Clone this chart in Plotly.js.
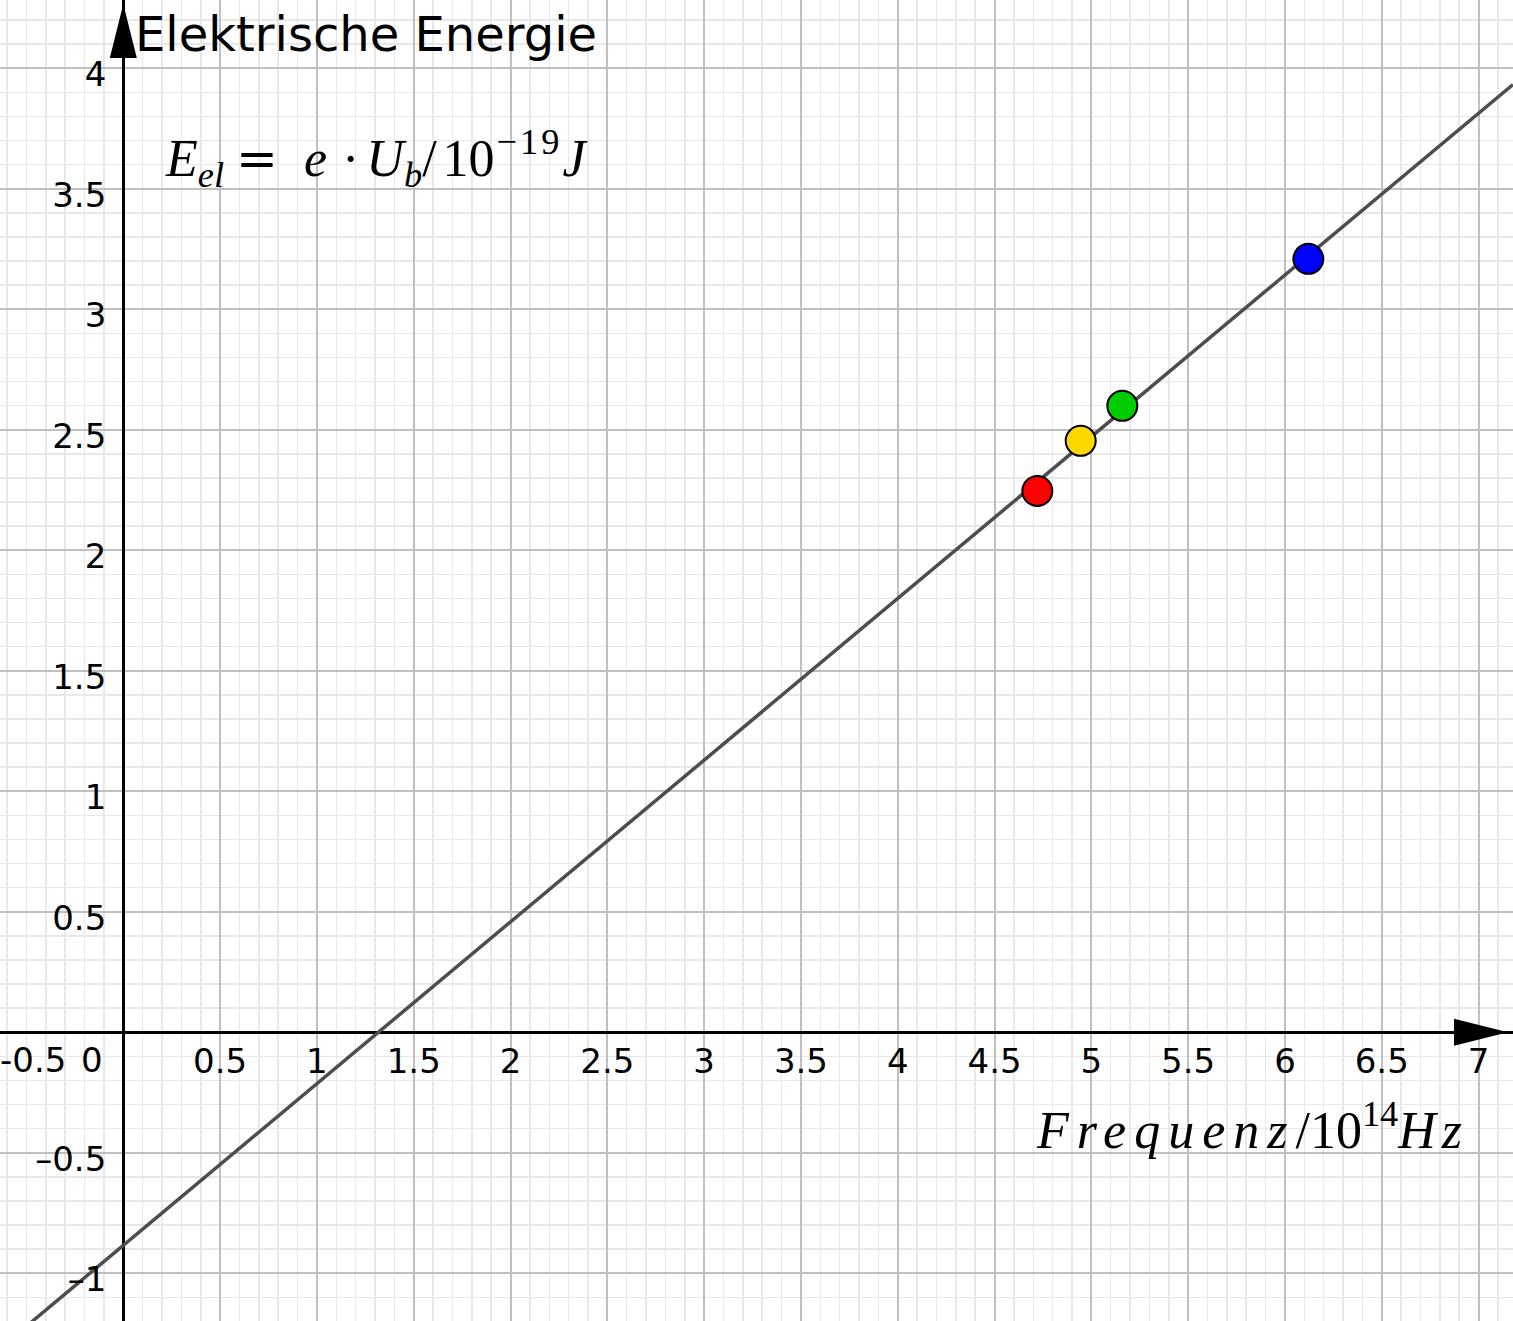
<!DOCTYPE html>
<html>
<head>
<meta charset="utf-8">
<script src="https://cdn.plot.ly/plotly-3.0.1.min.js"></script>
<style>html,body{margin:0;padding:0;background:#fff;}#chart{width:1513px;height:1321px;}</style>
</head>
<body>
<div id="chart"></div>
<script>
// Measured points (frequency / 10^14 Hz, energy / 10^-19 J)
const pointFreq = [4.721, 4.945, 5.160, 6.121];
const pointEnergy = [2.246, 2.454, 2.599, 3.209];
const pointColors = ['#ff0000', '#ffd700', '#00cc00', '#0000ff'];

// Fit line
const lineSlope = 0.671;
const lineIntercept = -0.884;

// Visible window
const xRange = [-0.637, 7.178];
const yRange = [-1.198, 4.283];

// Tick labels
const xTickVals = [0.5, 1, 1.5, 2, 2.5, 3, 3.5, 4, 4.5, 5, 5.5, 6, 6.5, 7];
const xTickText = ['0.5', '1', '1.5', '2', '2.5', '3', '3.5', '4', '4.5', '5', '5.5', '6', '6.5', '7'];
const xEdgeTickVal = -0.5;
const xEdgeTickText = '-0.5';
const yTickVals = [-1, -0.5, 0.5, 1, 1.5, 2, 2.5, 3, 3.5, 4];
const yTickText = ['–1', '–0.5', '0.5', '1', '1.5', '2', '2.5', '3', '3.5', '4'];
const originText = '0';

const titleText = 'Elektrische Energie';
const formulaText = '<i>E</i><sub><i>el</i></sub><span style="letter-spacing:-1px"> </span>' +
  '<span style="font-family:\'DejaVu Serif\';font-size:50px;letter-spacing:1px">=</span>' +
  '<span style="letter-spacing:12px"> </span><i>e</i><span style="letter-spacing:2px"> </span>·' +
  '<span style="letter-spacing:-6px"> </span><i>U</i><sub><i>b</i></sub>' +
  '<span style="letter-spacing:6px">/</span>1<span style="letter-spacing:2px">0</span>' +
  '<sup><span style="letter-spacing:3px">−19</span></sup><i>J</i>';
const xLabelText = '<i><span style="letter-spacing:8px">Frequenz</span></i>/10<sup>14</sup><i><span style="letter-spacing:6px">Hz</span></i>';

const lineTrace = {
  type: 'scatter', mode: 'lines',
  x: [xRange[0], xRange[1]],
  y: [lineIntercept + lineSlope * xRange[0], lineIntercept + lineSlope * xRange[1]],
  line: {color: '#4d4d4d', width: 3.5},
  hoverinfo: 'skip', showlegend: false
};
const pointTrace = {
  type: 'scatter', mode: 'markers',
  x: pointFreq, y: pointEnergy,
  marker: {size: 30, color: pointColors, line: {color: '#000', width: 2}},
  showlegend: false
};

const xPos = (0 - yRange[0]) / (yRange[1] - yRange[0]);
const yPos = (0 - xRange[0]) / (xRange[1] - xRange[0]);
const tickFont = {family: 'DejaVu Sans', size: 34, color: '#000'};

const layout = {
  width: 1513, height: 1321,
  margin: {l: 0, r: 0, t: 0, b: 0, pad: 0},
  paper_bgcolor: '#fff', plot_bgcolor: '#fff',
  showlegend: false,
  xaxis: {
    range: xRange, anchor: 'free', position: xPos,
    tickmode: 'array', tickvals: xTickVals, ticktext: xTickText,
    tickfont: tickFont, ticks: '', ticklabelstandoff: 6,
    showgrid: true, gridcolor: '#c0c0c0', gridwidth: 2,
    minor: {tickmode: 'linear', tick0: 0, dtick: 0.1, showgrid: true, gridcolor: '#e8e8e8', gridwidth: 1.5},
    zeroline: true, zerolinecolor: '#000', zerolinewidth: 3,
    showline: false, automargin: false, fixedrange: true
  },
  yaxis: {
    range: yRange, anchor: 'free', position: yPos,
    tickmode: 'array', tickvals: yTickVals, ticktext: yTickText,
    tickfont: tickFont, ticks: '', ticklabelstandoff: 17, ticklabelshift: 6,
    showgrid: true, gridcolor: '#c0c0c0', gridwidth: 2,
    minor: {tickmode: 'linear', tick0: 0, dtick: 0.1, showgrid: true, gridcolor: '#e8e8e8', gridwidth: 1.5},
    zeroline: true, zerolinecolor: '#000', zerolinewidth: 3,
    showline: false, automargin: false, fixedrange: true
  },
  shapes: [
    {type: 'path', xref: 'x', yref: 'y', xsizemode: 'pixel', ysizemode: 'pixel',
     xanchor: xRange[1], yanchor: 0,
     path: 'M -5 0 L -59 13.5 L -59 -13.5 Z', fillcolor: '#000', line: {width: 0}},
    {type: 'path', xref: 'x', yref: 'y', xsizemode: 'pixel', ysizemode: 'pixel',
     xanchor: 0, yanchor: yRange[1],
     path: 'M 0 -4 L 13.5 -58 L -13.5 -58 Z', fillcolor: '#000', line: {width: 0}}
  ],
  annotations: [
    {text: originText, xref: 'x', yref: 'y', x: 0, y: 0, xanchor: 'right', yanchor: 'top',
     xshift: -18, yshift: -6, showarrow: false, font: tickFont},
    {text: xEdgeTickText, xref: 'x', yref: 'y', x: xEdgeTickVal, y: 0, xanchor: 'center', yanchor: 'top',
     xshift: 6, yshift: -6, showarrow: false, font: tickFont},
    {text: titleText, xref: 'paper', yref: 'paper', x: 133 / 1513, y: 1, xanchor: 'left', yanchor: 'top',
     yshift: -4, showarrow: false, font: {family: 'DejaVu Sans', size: 48, color: '#000'}},
    {text: formulaText, xref: 'paper', yref: 'paper', x: 163 / 1513, y: 1 - 120 / 1321, xanchor: 'left', yanchor: 'top',
     showarrow: false, font: {family: 'Liberation Serif', size: 52, color: '#000'}},
    {text: xLabelText, xref: 'paper', yref: 'paper', x: 1470 / 1513, y: 1 - 1092 / 1321, xanchor: 'right', yanchor: 'top',
     showarrow: false, font: {family: 'Liberation Serif', size: 52, color: '#000'}}
  ]
};

Plotly.newPlot('chart', [lineTrace, pointTrace], layout, {displayModeBar: false, staticPlot: true});
</script>
</body>
</html>
